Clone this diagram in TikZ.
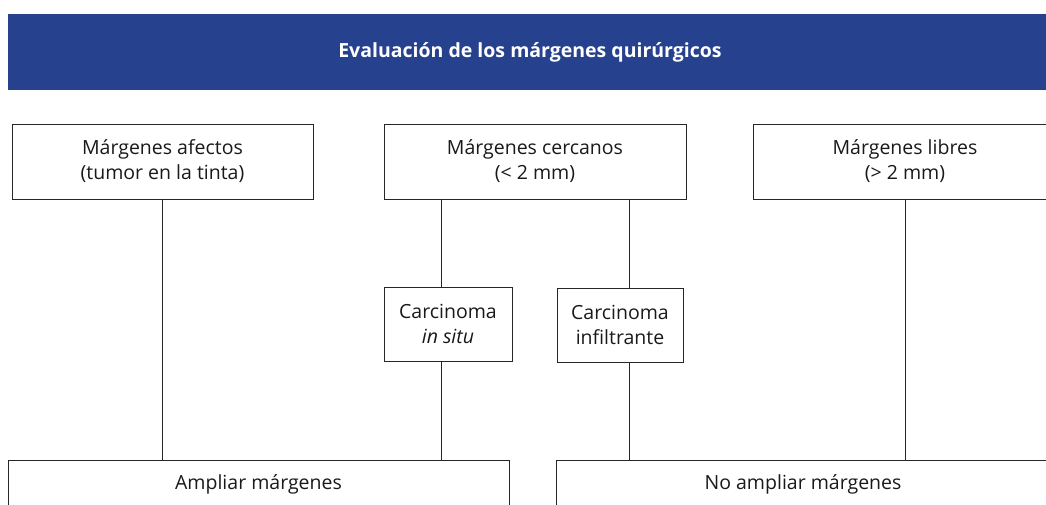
\documentclass[tikz,border=0pt]{standalone}
\usepackage{fontspec}
\setmainfont{Open Sans}
\definecolor{headblue}{RGB}{38,65,142}
\begin{document}
\begin{tikzpicture}[x=1pt, y=-1pt,
    box/.style={draw=black!85, line width=0.8pt, align=center, inner sep=0pt,
      font=\fontsize{19.5}{25}\selectfont, text=black!90},
    link/.style={draw=black!85, line width=0.8pt}]
    \useasboundingbox (0,0) rectangle (1046,505);
    % cabecera
    \node[fill=headblue, minimum width=1044pt, minimum height=76pt, text=white,
      font=\bfseries\fontsize{19.5}{22}\selectfont] (head) at (530,52) {Evaluación de los márgenes quirúrgicos};

    % tipos de margen
    \node[box, minimum width=301pt, minimum height=75pt] (afectos) at (162.5,161.5) {Márgenes afectos\\(tumor en la tinta)};
    \node[box, minimum width=302pt, minimum height=75pt] (cercanos) at (535,161.5) {Márgenes cercanos\\(< 2 mm)};
    \node[box, minimum width=304pt, minimum height=75pt] (libres) at (905,161.5) {Márgenes libres\\(> 2 mm)};

    \node[box, minimum width=128pt, minimum height=74pt] (insitu) at (448,324) {Carcinoma\\\textit{in situ}};
    \node[box, minimum width=126pt, minimum height=74pt] (infiltr) at (620,325) {Carcinoma\\infiltrante};

    % decisiones
    \node[box, minimum width=501pt, minimum height=48pt] (ampliar) at (258.5,484) {Ampliar márgenes};
    \node[box, minimum width=494pt, minimum height=48pt] (noampliar) at (803,484) {No ampliar márgenes};

    \coordinate (ci) at ([xshift=-7pt]insitu.north);
    \coordinate (cf) at ([xshift=9pt]infiltr.north);

    \draw[link] (afectos.south) -- (afectos.south |- ampliar.north);
    \draw[link] (ci |- cercanos.south) -- (ci);
    \draw[link] (ci |- insitu.south) -- (ci |- ampliar.north);
    \draw[link] (cf |- cercanos.south) -- (cf);
    \draw[link] (cf |- infiltr.south) -- (cf |- noampliar.north);
    \draw[link] (libres.south) -- (libres.south |- noampliar.north);
\end{tikzpicture}
\end{document}
